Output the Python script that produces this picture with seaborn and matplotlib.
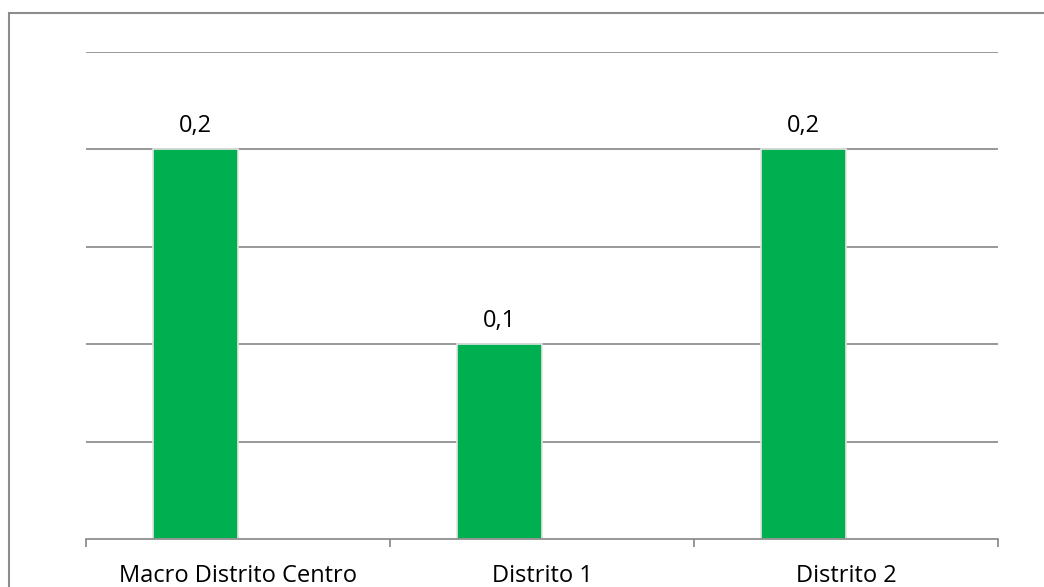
import matplotlib
matplotlib.use("Agg")
import matplotlib.pyplot as plt
from matplotlib.patches import Rectangle
import seaborn as sns
import pandas as pd
import numpy as np

categories = ["Macro Distrito Centro", "Distrito 1", "Distrito 2"]
values = [0.2, 0.1, 0.2]
# the chart is a two-series cluster; the second series is empty
series = ["Serie 1", "Serie 2"]
values_empty = [np.nan, np.nan, np.nan]

df = pd.DataFrame({
    "categoria": categories * 2,
    "valor": values + values_empty,
    "serie": [series[0]] * 3 + [series[1]] * 3,
})

sns.set_theme(style="white")
plt.rcParams["font.family"] = ["Open Sans", "DejaVu Sans"]

W, H = 1044, 587
fig = plt.figure(figsize=(W / 100, H / 100), dpi=100)
fig.patch.set_facecolor("white")

# outer chart frame (runs off the right and bottom edges)
fig.patches.append(Rectangle((9 / W, -0.1), 1.2, 1.1 - 13 / H,
                             transform=fig.transFigure, fill=False,
                             edgecolor="#8c8c8c", linewidth=1.5))

ax = fig.add_axes([86 / W, 48 / H, (998 - 86) / W, (539 - 52) / H])

sns.barplot(data=df, x="categoria", y="valor", hue="serie", hue_order=series,
            order=categories, ax=ax, palette=["#00B050", "#00B050"],
            width=0.56, dodge=True, edgecolor="#e4e4e4", linewidth=1.2,
            saturation=1, legend=False)

ax.set_ylim(0, 0.25)
ax.set_xlim(-0.5, len(categories) - 0.5)
ax.set_yticks([0.05, 0.10, 0.15, 0.20, 0.25])
ax.yaxis.grid(True, color="#868686", linewidth=1.2)
ax.set_axisbelow(True)
ax.tick_params(axis="y", left=False, labelleft=False)

for s in ["top", "left", "right"]:
    ax.spines[s].set_visible(False)
ax.spines["bottom"].set_color("#868686")
ax.spines["bottom"].set_linewidth(1.2)

# category boundary ticks below the baseline
ax.set_xticks([i - 0.5 for i in range(len(categories) + 1)], minor=True)
ax.tick_params(axis="x", which="minor", bottom=True, direction="out",
               length=6, width=1.2, color="#868686")
ax.tick_params(axis="x", which="major", bottom=False, pad=12,
               labelsize=17, labelcolor="black")
ax.set_xlabel("")
ax.set_ylabel("")

ax.bar_label(ax.containers[0],
             labels=[f"{v:.1f}".replace(".", ",") for v in values],
             padding=8, fontsize=17, color="black")

fig.savefig("out.png", dpi=100)
